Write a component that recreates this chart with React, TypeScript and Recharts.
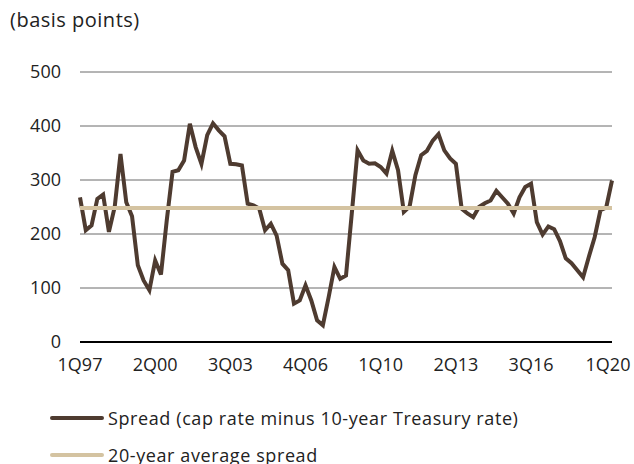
import {
  CartesianGrid,
  Line,
  LineChart,
  ReferenceLine,
  XAxis,
  YAxis,
} from "recharts";

// cap rate minus 10-year Treasury, quarterly from 1Q97 to 1Q20 (bp)
const spread = [
  268, 207, 216, 265, 273, 204, 250, 348, 259, 233,
  142, 114, 96, 151, 125, 225, 315, 318, 336, 404,
  361, 330, 383, 405, 392, 381, 330, 329, 327, 256,
  253, 247, 207, 219, 197, 145, 133, 71, 77, 105,
  77, 40, 31, 83, 139, 117, 123, 238, 355, 336,
  330, 331, 324, 312, 354, 318, 241, 251, 309, 346,
  354, 373, 385, 355, 340, 330, 247, 238, 231, 250,
  257, 262, 280, 268, 256, 238, 268, 287, 293, 222,
  199, 214, 209, 187, 155, 146, 133, 120, 158, 194,
  244, 249, 299,
];

const AVERAGE_SPREAD = 248;

const yTicks = [0, 100, 200, 300, 400, 500];
const xTickLabels = ["1Q97", "2Q00", "3Q03", "4Q06", "1Q10", "2Q13", "3Q16", "1Q20"];

const SPREAD_COLOR = "#4e3b30";
const AVG_COLOR = "#d4c3a1";
const TEXT_COLOR = "#222";
const FONT = "'Open Sans', sans-serif";

function quarterLabels(startYear: number, count: number) {
  const out: string[] = [];
  for (let i = 0; i < count; i++) {
    const y = startYear + Math.floor(i / 4);
    out.push(`${(i % 4) + 1}Q${String(y % 100).padStart(2, "0")}`);
  }
  return out;
}

const quarters = quarterLabels(1997, spread.length);
const data = quarters.map((q, i) => ({ q, spread: spread[i] }));

const legendItems = [
  { label: "Spread (cap rate minus 10-year Treasury rate)", color: SPREAD_COLOR, top: 418 },
  { label: "20-year average spread", color: AVG_COLOR, top: 455 },
];

// last label would spill past the right edge, nudge it in a little
function QuarterTick(props: any) {
  const { x, y, payload } = props;
  const isLast = payload.value === xTickLabels[xTickLabels.length - 1];
  return (
    <text
      x={x}
      y={y}
      dy="0.71em"
      dx={isLast ? -4 : 0}
      textAnchor="middle"
      fill={TEXT_COLOR}
      fontSize={18}
      fontFamily={FONT}
    >
      {payload.value}
    </text>
  );
}

export default function App() {
  return (
    <div
      style={{
        position: "fixed",
        left: 0,
        top: 0,
        width: 634,
        height: 464,
        background: "#fff",
        fontFamily: FONT,
        color: TEXT_COLOR,
        overflow: "hidden",
      }}
    >
      <div
        style={{
          position: "absolute",
          left: 10,
          top: 6,
          fontSize: 20,
          letterSpacing: 0.5,
          lineHeight: "28px",
        }}
      >
        (basis points)
      </div>

      <LineChart
        width={634}
        height={464}
        data={data}
        margin={{ top: 72, right: 22, bottom: 92, left: 20 }}
      >
        <CartesianGrid vertical={false} stroke="#6a6a6a" strokeWidth={1} />
        <XAxis
          dataKey="q"
          ticks={xTickLabels}
          interval={0}
          height={30}
          tickLine={false}
          tickSize={6}
          tickMargin={10}
          axisLine={{ stroke: "#000", strokeWidth: 2 }}
          tick={<QuarterTick />}
        />
        <YAxis
          domain={[0, 500]}
          ticks={yTicks}
          width={60}
          axisLine={false}
          tickLine={false}
          tickSize={6}
          tickMargin={13}
          tick={{ fill: TEXT_COLOR, fontSize: 18, fontFamily: FONT }}
        />
        <Line
          type="linear"
          dataKey="spread"
          stroke={SPREAD_COLOR}
          strokeWidth={4}
          dot={false}
          isAnimationActive={false}
        />
        <ReferenceLine y={AVERAGE_SPREAD} stroke={AVG_COLOR} strokeWidth={4} />
      </LineChart>

      {legendItems.map((item) => (
        <div
          key={item.label}
          style={{
            position: "absolute",
            left: 50,
            top: item.top - 13,
            height: 26,
            display: "flex",
            alignItems: "center",
            fontSize: 18,
            letterSpacing: 0.6,
            whiteSpace: "nowrap",
          }}
        >
          <span
            style={{
              display: "inline-block",
              width: 54,
              height: 4,
              borderRadius: 2,
              background: item.color,
              marginRight: 4,
            }}
          />
          {item.label}
        </div>
      ))}
    </div>
  );
}
